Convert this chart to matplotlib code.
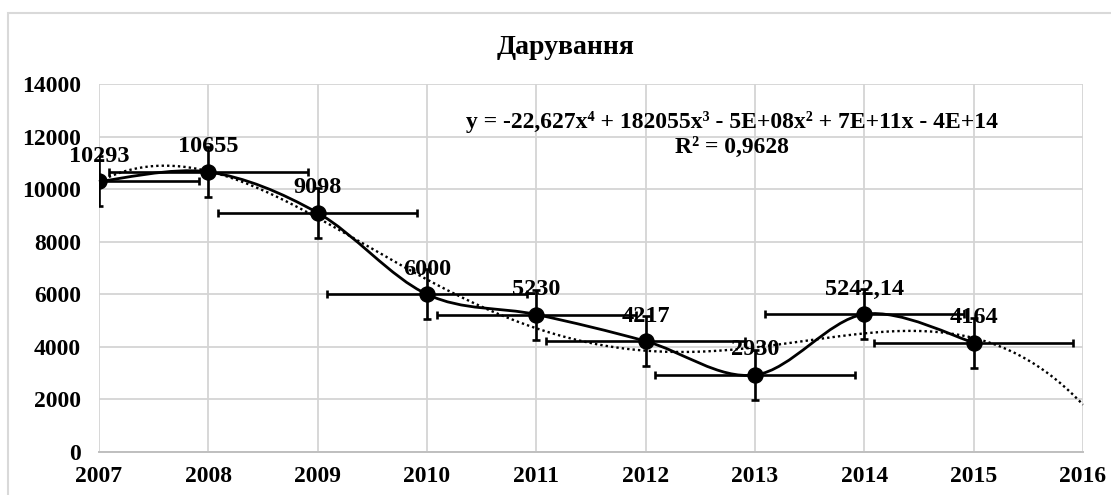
import matplotlib
matplotlib.use("Agg")
import matplotlib.pyplot as plt
import numpy as np
from matplotlib.path import Path
from matplotlib.patches import PathPatch, Rectangle

plt.rcParams["font.family"] = ["Liberation Serif", "DejaVu Serif"]
plt.rcParams["font.weight"] = "bold"

# data
years = [2007, 2008, 2009, 2010, 2011, 2012, 2013, 2014, 2015]
values = [10293, 10655, 9098, 6000, 5230, 4217, 2930, 5242.14, 4164]
labels = ["10293", "10655", "9098", "6000", "5230", "4217", "2930", "5242,14", "4164"]
err_y = 952      # standard error bars (vertical)
err_x = 0.913    # standard error bars (horizontal)
title = "Дарування"
equation = "y = -22,627x⁴ + 182055x³ - 5E+08x² + 7E+11x - 4E+14"
r2_text = "R² = 0,9628"

W, H = 1111, 495
fig = plt.figure(figsize=(W / 100, H / 100), dpi=100)
ax = fig.add_axes([99 / W, 1 - 452 / H, (1083 - 99) / W, (452 - 84) / H])

# chart area border (runs off the image to the right and bottom)
fig.patches.append(Rectangle((8 / W, -0.1), 1.2, 1 - 13 / H + 0.1,
                             transform=fig.transFigure, fill=False,
                             edgecolor="#d9d9d9", linewidth=1.5))

ax.set_xlim(2007, 2016)
ax.set_ylim(0, 14000)
ax.set_xticks(range(2007, 2017))
ax.set_yticks(range(0, 14001, 2000))
ax.grid(True, color="#d4d4d4", linewidth=1.3)
ax.set_axisbelow(True)
for s in ["top", "right", "left"]:
    ax.spines[s].set_visible(False)
ax.spines["bottom"].set_color("#bfbfbf")
ax.spines["bottom"].set_linewidth(1.4)
ax.tick_params(length=0, labelsize=17)
ax.tick_params(axis="y", pad=13)
ax.tick_params(axis="x", pad=10)

# smoothed line, Excel-style bezier through the points
px = [years[0]] + years + [years[-1]]
py = [values[0]] + values + [values[-1]]
verts = [(px[1], py[1])]
codes = [Path.MOVETO]
for i in range(1, len(px) - 2):
    c1 = (px[i] + (px[i + 1] - px[i - 1]) / 6, py[i] + (py[i + 1] - py[i - 1]) / 6)
    c2 = (px[i + 1] - (px[i + 2] - px[i]) / 6, py[i + 1] - (py[i + 2] - py[i]) / 6)
    verts += [c1, c2, (px[i + 1], py[i + 1])]
    codes += [Path.CURVE4] * 3
ax.add_patch(PathPatch(Path(verts, codes), fill=False, edgecolor="black",
                       linewidth=2.0, zorder=3))

# polynomial trendline (order 4), forecast one period forward
coef = np.polyfit(np.array(years) - 2007, values, 4)
tx = np.linspace(2007, 2016, 300)
ax.plot(tx, np.polyval(coef, tx - 2007), color="black", linewidth=1.7,
        linestyle=(0, (1, 1.3)), zorder=4, clip_on=False)

ax.errorbar(years, values, yerr=err_y, xerr=err_x, fmt="none", ecolor="black",
            elinewidth=1.9, capsize=3.2, capthick=1.9, zorder=5)
ax.plot(years, values, "o", color="black", markersize=10.8, zorder=6)

for x, y, t in zip(years, values, labels):
    ax.annotate(t, (x, y), xytext=(0, 18), textcoords="offset points",
                ha="center", va="center", fontsize=17.5, zorder=7)

fig.text(566 / W, 1 - 47 / H, title, ha="center", va="center", fontsize=20)
fig.text(732 / W, 1 - 122 / H, equation, ha="center", va="center", fontsize=17)
fig.text(732 / W, 1 - 147 / H, r2_text, ha="center", va="center", fontsize=17)

fig.savefig("out.png", dpi=100)
